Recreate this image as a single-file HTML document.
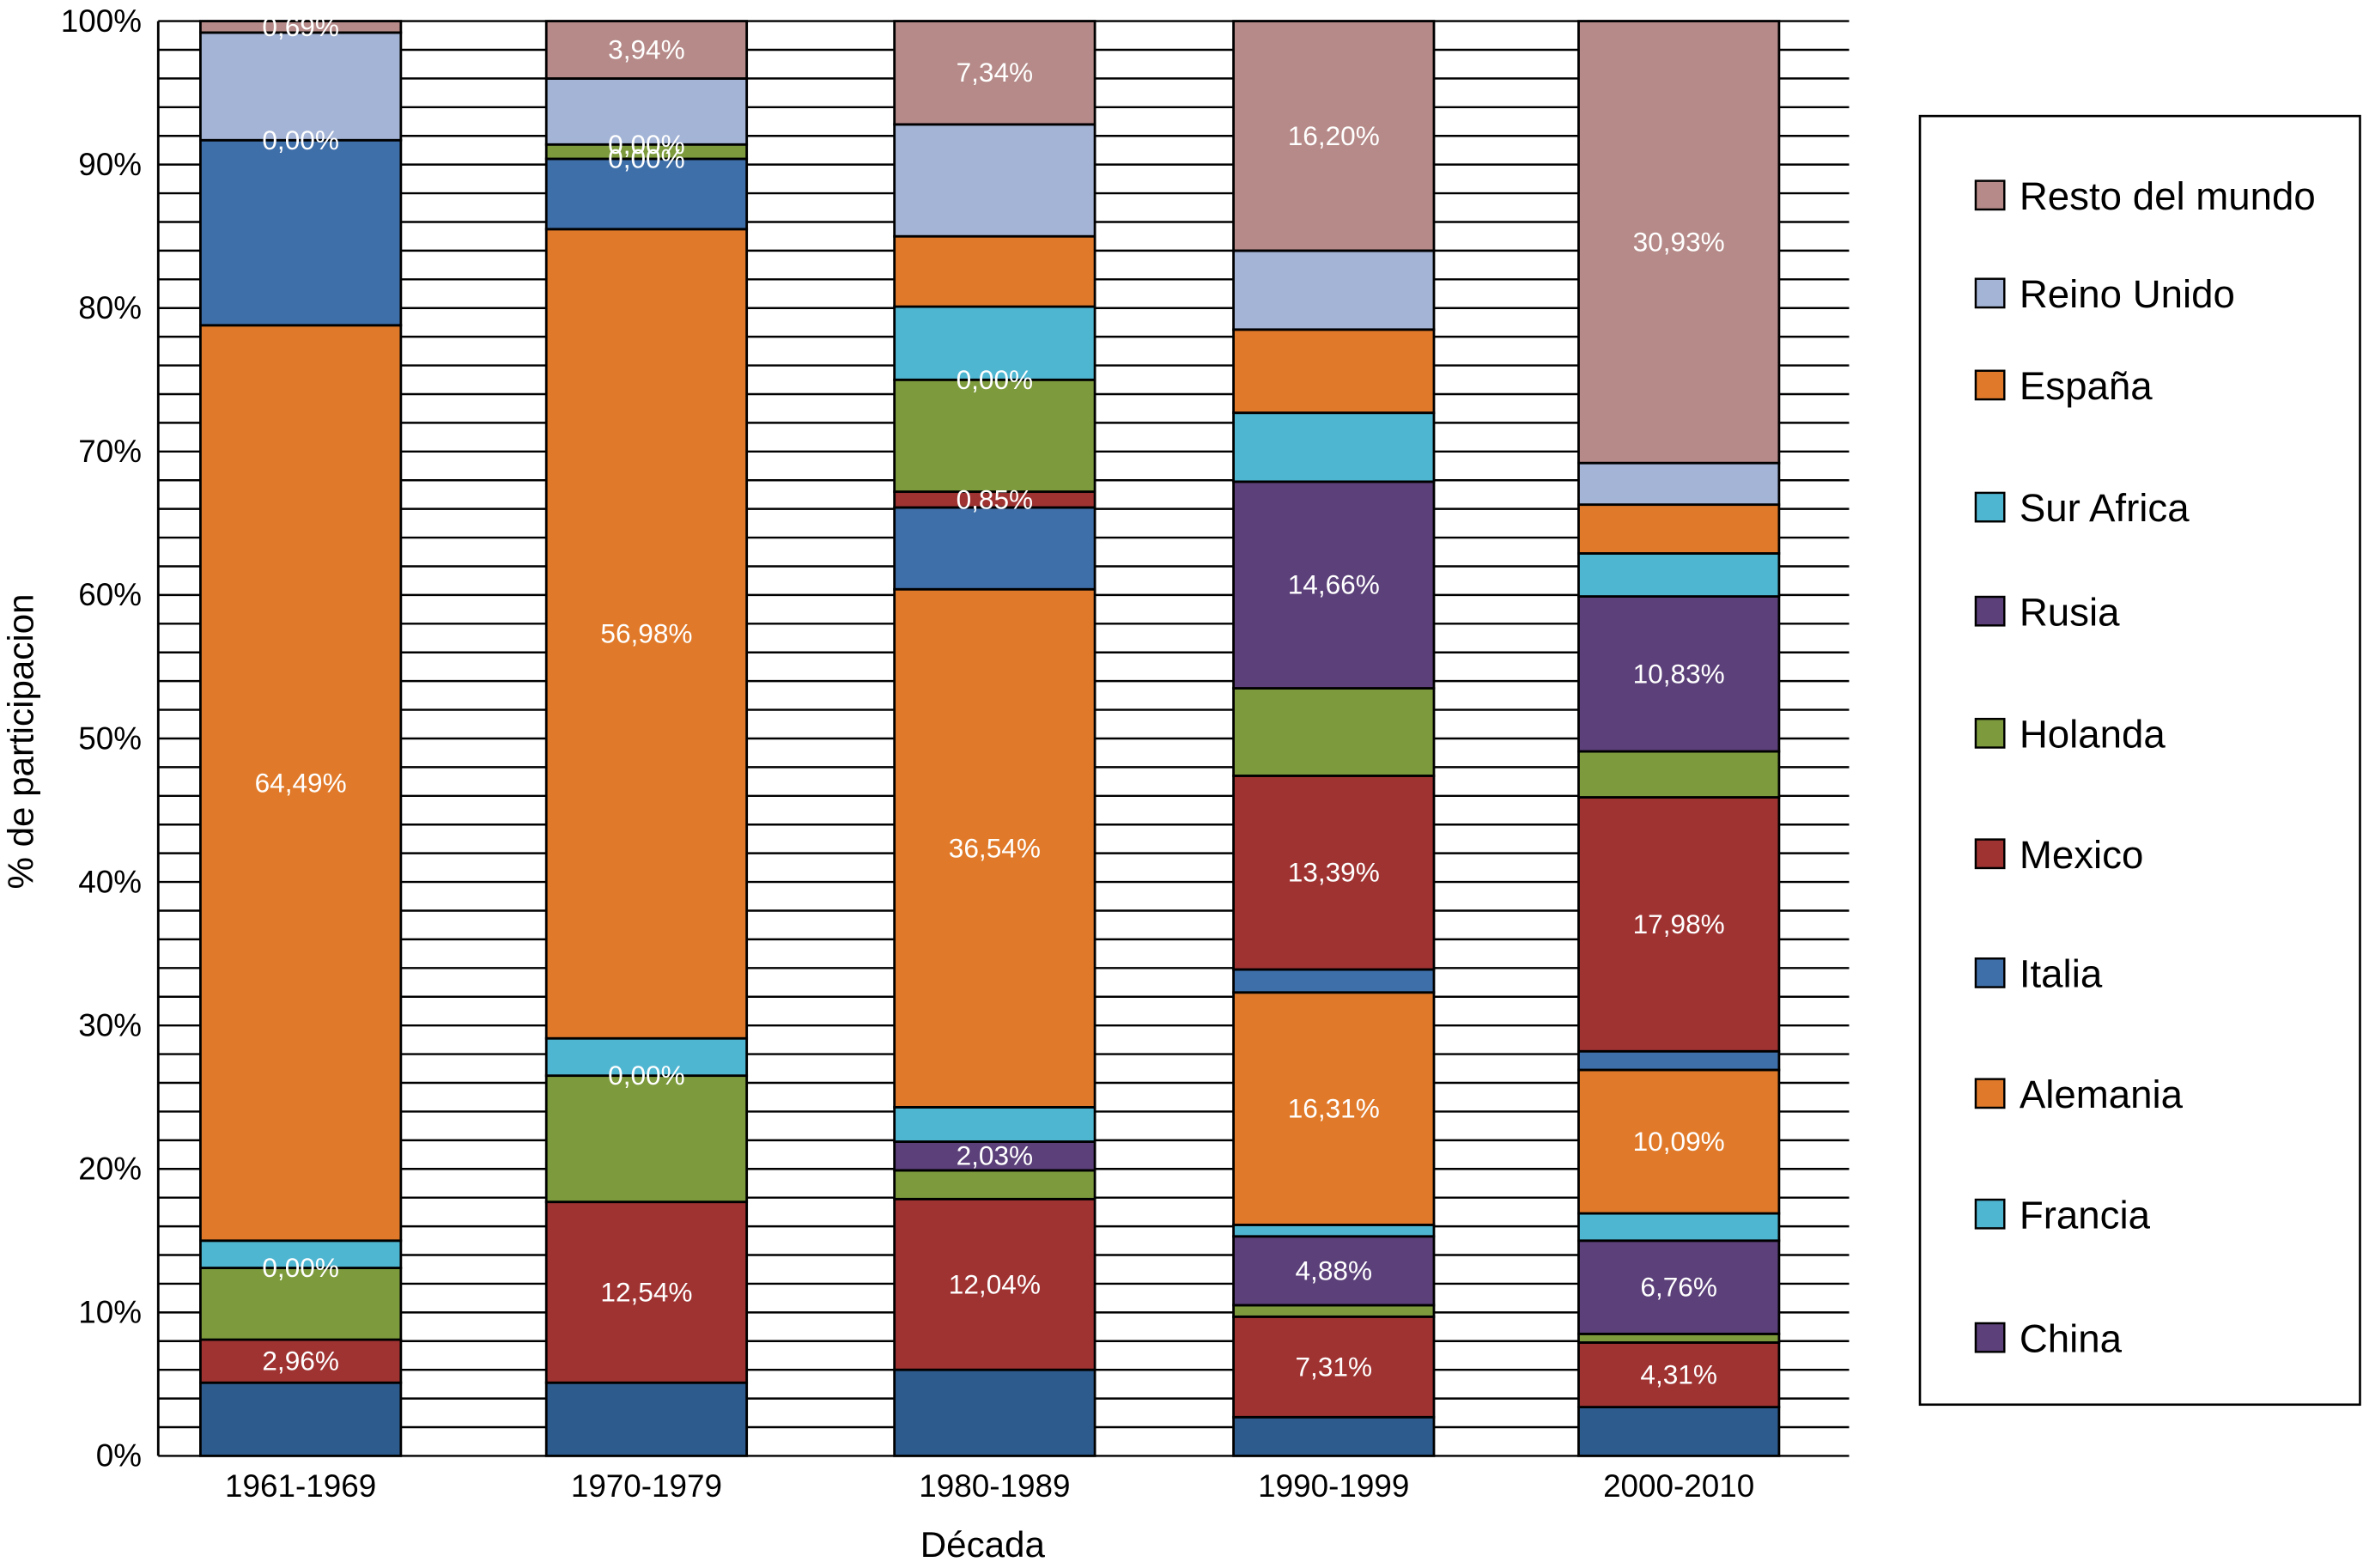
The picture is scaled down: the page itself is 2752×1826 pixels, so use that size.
<!DOCTYPE html>
<html><head><meta charset="utf-8">
<style>
html,body{margin:0;padding:0;background:#fff;}
svg{display:block;font-family:"Liberation Sans",Arial,sans-serif;}
</style></head>
<body>
<svg id="chart" width="2752" height="1826" viewBox="0 0 1568 1040.4" preserveAspectRatio="none" xmlns="http://www.w3.org/2000/svg">
<rect x="0" y="0" width="1568" height="1040.4" fill="#fff"/>
<g id="grid"></g>
<g id="bars"></g>
<g id="yaxis"></g>
<g id="xaxis"></g>
<text x="652" y="1033" font-size="24" text-anchor="middle">Década</text>
<text transform="translate(22,492) rotate(-90)" font-size="24" text-anchor="middle">% de participacion</text>
<g id="legend"></g>
</svg>
<script>
const categories = ["1961-1969","1970-1979","1980-1989","1990-1999","2000-2010"];
const seriesNames = ["Estados Unidos","Canada","Japon","China","Francia","Alemania","Italia","Mexico","Holanda","Rusia","Sur Africa","España","Reino Unido","Resto del mundo"];
const seriesColors = ["#2d5b8d","#9f3332","#7d9b3d","#5b4079","#4fb6d2","#e07a2a","#3f6fa9","#9f3332","#7d9b3d","#5b4079","#4fb6d2","#e07a2a","#a3b4d6","#b58a88"];
const valuesUS      = [5.1, 5.1, 6.0, 2.7, 3.4];
const valuesCanada  = [3.0, 12.6, 11.9, 7.0, 4.5];
const valuesJapon   = [5.0, 8.8, 2.0, 0.8, 0.6];
const valuesChina   = [0.0, 0.0, 2.0, 4.8, 6.5];
const valuesFrancia = [1.9, 2.6, 2.4, 0.8, 1.9];
const valuesAlemania= [63.8, 56.4, 36.1, 16.2, 10.0];
const valuesItalia  = [12.9, 4.9, 5.7, 1.6, 1.3];
const valuesMexico  = [0.0, 0.0, 1.1, 13.5, 17.7];
const valuesHolanda = [0.0, 1.0, 7.8, 6.1, 3.2];
const valuesRusia   = [0.0, 0.0, 0.0, 14.4, 10.8];
const valuesSurAfrica=[0.0, 0.0, 5.1, 4.8, 3.0];
const valuesEspana  = [0.0, 0.0, 4.9, 5.8, 3.4];
const valuesReinoUnido=[7.5, 4.6, 7.8, 5.5, 2.9];
const valuesResto   = [0.8, 4.0, 7.2, 16.0, 30.8];
const labelsUS      = [null,null,null,null,null];
const labelsCanada  = ["2,96%","12,54%","12,04%","7,31%","4,31%"];
const labelsJapon   = [null,null,null,null,null];
const labelsChina   = ["0,00%","0,00%","2,03%","4,88%","6,76%"];
const labelsFrancia = [null,null,null,null,null];
const labelsAlemania= ["64,49%","56,98%","36,54%","16,31%","10,09%"];
const labelsItalia  = [null,null,null,null,null];
const labelsMexico  = ["0,00%","0,00%","0,85%","13,39%","17,98%"];
const labelsHolanda = [null,null,null,null,null];
const labelsRusia   = [null,"0,00%","0,00%","14,66%","10,83%"];
const labelsSurAfrica=[null,null,null,null,null];
const labelsEspana  = [null,null,null,null,null];
const labelsReinoUnido=[null,null,null,null,null];
const labelsResto   = ["0,69%","3,94%","7,34%","16,20%","30,93%"];
const yTicks = [0,10,20,30,40,50,60,70,80,90,100];
const legendNames = ["Resto del mundo","Reino Unido","España","Sur Africa","Rusia","Holanda","Mexico","Italia","Alemania","Francia","China"];
const legendColors = ["#b58a88","#a3b4d6","#e07a2a","#4fb6d2","#5b4079","#7d9b3d","#9f3332","#3f6fa9","#e07a2a","#4fb6d2","#5b4079"];

const allValues = [valuesUS,valuesCanada,valuesJapon,valuesChina,valuesFrancia,valuesAlemania,valuesItalia,valuesMexico,valuesHolanda,valuesRusia,valuesSurAfrica,valuesEspana,valuesReinoUnido,valuesResto];
const allLabels = [labelsUS,labelsCanada,labelsJapon,labelsChina,labelsFrancia,labelsAlemania,labelsItalia,labelsMexico,labelsHolanda,labelsRusia,labelsSurAfrica,labelsEspana,labelsReinoUnido,labelsResto];

const NS="http://www.w3.org/2000/svg";
const X0=105, X1=1227, Y0=966, Y100=14;
function y(v){return Y0-(Y0-Y100)*v/100;}
const BW=133;
function xc(i){const step=229.5, first=199.5; return first+i*step - (i===2?-1.5:0) - (i>=3?(i===3?3:3.5):0);}
function mk(tag,attrs,parent){const e=document.createElementNS(NS,tag);for(const k in attrs)e.setAttribute(k,attrs[k]);parent.appendChild(e);return e;}

const grid=document.getElementById('grid');
for(let v=0;v<=100;v+=2){
  const l=mk('line',{x1:X0,x2:X1,y1:y(v),y2:y(v),stroke:'#000','stroke-width':1.4},grid);
  
  
}
const bars=document.getElementById('bars');
categories.forEach((c,i)=>{
  let cum=0;
  const cx=xc(i);
  const g=mk('g',{},bars);
  
  
  const labs=[];
  allValues.forEach((vals,s)=>{
    const v=vals[i];
    const top=y(cum+v), bot=y(cum);
    if(v>0){
      const r=mk('rect',{x:cx-BW/2,y:top,width:BW,height:bot-top,fill:seriesColors[s],stroke:'#000','stroke-width':1.6},g);
      
      
    }
    const lt=allLabels[s][i];
    if(lt){labs.push([lt,(top+bot)/2]);}
    cum+=v;
  });
  labs.forEach(([t,ym])=>{
    const tx=mk('text',{x:cx,y:ym+6,'font-size':18,fill:'#fff','text-anchor':'middle'},g);
    
    
    tx.textContent=t;
  });
  const xl=mk('text',{x:cx,y:993,'font-size':21,'text-anchor':'middle'},document.getElementById('xaxis'));
  
  
  xl.textContent=c;
});
const ya=document.getElementById('yaxis');
mk('line',{x1:X0,x2:X0,y1:Y100,y2:Y0,stroke:'#000','stroke-width':1.6},ya);
yTicks.forEach(t=>{
  const tx=mk('text',{x:94,y:y(t)+7,'font-size':21,'text-anchor':'end'},ya);
  
  
  tx.textContent=t+'%';
});
const lg=document.getElementById('legend');
mk('rect',{x:1274,y:77,width:292,height:855,fill:'#fff',stroke:'#000','stroke-width':1.5},lg);
const legY=[130,195,256,337,406,487,567,646,726,806,888];
legendNames.forEach((n,k)=>{
  const g=mk('g',{},lg);
  
  
  mk('rect',{x:1311,y:legY[k]-10,width:19,height:19,fill:legendColors[k],stroke:'#000','stroke-width':1.4},g);
  const t=mk('text',{x:1340,y:legY[k]+9,'font-size':26},g);
  t.textContent=n;
});
</script>
</body></html>
